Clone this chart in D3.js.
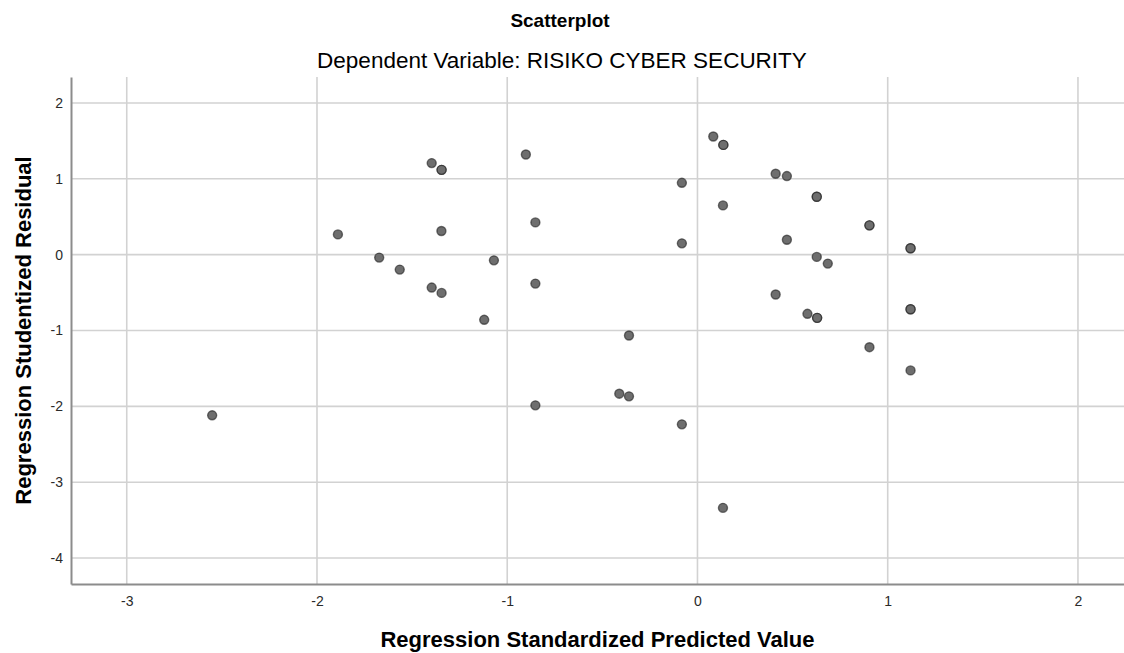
<!doctype html>
<html lang="en">
<head>
  <meta charset="utf-8">
  <title>Scatterplot</title>
  <script src="https://cdnjs.cloudflare.com/ajax/libs/d3/7.8.5/d3.min.js"></script>
  <style>
    body { margin: 0; background: #fff; }
    text { font-family: "Liberation Sans", Arial, sans-serif; }
  </style>
</head>
<body>
  <svg width="1124" height="653" id="svg"></svg>
<script>
  // values (duplicates where dots look darker / overlapped)
  var predicted = [-2.551, -1.890, -1.673, -1.565, -1.397, -1.345, -1.345, -1.346, -1.397, -1.345,
    -1.121, -1.070, -0.902, -0.852, -0.852, -0.852, -0.411, -0.360, -0.360, -0.082,
    -0.082, -0.082, 0.083, 0.136, 0.136, 0.134, 0.134, 0.411, 0.470, 0.627,
    0.627, 0.470, 0.627, 0.685, 0.411, 0.578, 0.629, 0.629, 0.904, 0.904,
    0.904, 1.120, 1.120, 1.120, 1.120, 1.120];
  var residual = [-2.118, 0.267, -0.039, -0.197, 1.207, 1.118, 1.118, 0.312, -0.434, -0.504,
    -0.859, -0.075, 1.320, 0.425, -0.382, -1.987, -1.833, -1.868, -1.066, 0.947,
    0.149, -2.237, 1.557, 1.447, 1.447, 0.649, -3.338, 1.066, 1.036, 0.763,
    0.763, 0.197, -0.030, -0.118, -0.526, -0.780, -0.833, -0.833, 0.386, 0.386,
    -1.220, 0.084, 0.084, -0.720, -0.720, -1.526];
  var xTicks = [-3, -2, -1, 0, 1, 2];
  var yTicks = [2, 1, 0, -1, -2, -3, -4];

  var chartTitle = 'Scatterplot';
  var subtitle = 'Dependent Variable: RISIKO CYBER SECURITY';
  var xTitle = 'Regression Standardized Predicted Value';
  var yTitle = 'Regression Studentized Residual';

  var svg = d3.select('#svg');
  var plotL = 71, plotR = 1124, plotT = 77, plotB = 584;

  var x = d3.scaleLinear().domain([-3.293, 2.242]).range([plotL, plotR]);
  var y = d3.scaleLinear().domain([2.342, -4.342]).range([plotT, plotB]);

  // grid
  svg.append('g').selectAll('line').data(xTicks).enter().append('line')
    .attr('x1', function(d) { return x(d); }).attr('x2', function(d) { return x(d); })
    .attr('y1', plotT).attr('y2', plotB)
    .attr('stroke', '#d2d2d2').attr('stroke-width', 1.6);
  svg.append('g').selectAll('line').data(yTicks).enter().append('line')
    .attr('x1', plotL).attr('x2', plotR)
    .attr('y1', function(d) { return y(d); }).attr('y2', function(d) { return y(d); })
    .attr('stroke', '#d2d2d2').attr('stroke-width', 1.6);

  // axes
  var fmt = function(d) { return String(d); };
  var xAxis = svg.append('g').attr('transform', 'translate(0,' + plotB + ')')
    .call(d3.axisBottom(x).tickValues(xTicks).tickSize(0).tickPadding(12).tickFormat(fmt));
  var yAxis = svg.append('g').attr('transform', 'translate(' + plotL + ',0)')
    .call(d3.axisLeft(y).tickValues(yTicks).tickSize(0).tickPadding(8).tickFormat(fmt));
  [xAxis, yAxis].forEach(function(a) {
    a.select('.domain').attr('stroke', '#8c8c8c').attr('stroke-width', 2);
    a.selectAll('text').attr('font-size', 14).attr('fill', '#2a2a2a')
      .style('font-family', '"Liberation Sans", Arial, sans-serif');
  });

  // points
  svg.append('g').selectAll('circle').data(predicted).enter().append('circle')
    .attr('cx', function(d) { return x(d); })
    .attr('cy', function(d, i) { return y(residual[i]); })
    .attr('r', 4.5)
    .attr('fill', '#6e6e6e')
    .attr('stroke', 'rgba(30,30,30,0.6)')
    .attr('stroke-width', 1.4);

  // titles
  svg.append('text').attr('x', 560).attr('y', 27).attr('text-anchor', 'middle')
    .attr('font-size', 19).attr('font-weight', 'bold').text(chartTitle);
  svg.append('text').attr('x', 562).attr('y', 68).attr('text-anchor', 'middle')
    .attr('font-size', 22.5).text(subtitle);
  svg.append('text').attr('x', (plotL + plotR) / 2).attr('y', 647).attr('text-anchor', 'middle')
    .attr('font-size', 22).attr('font-weight', 'bold').text(xTitle);
  svg.append('text').attr('transform', 'translate(31,' + ((plotT + plotB) / 2) + ') rotate(-90)')
    .attr('text-anchor', 'middle')
    .attr('font-size', 22).attr('font-weight', 'bold').text(yTitle);
</script>
</body>
</html>
